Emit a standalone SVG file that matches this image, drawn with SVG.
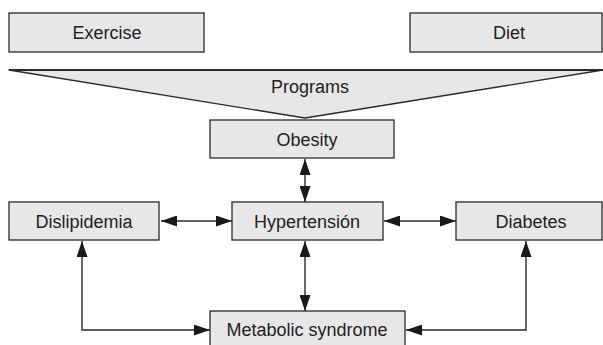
<svg xmlns="http://www.w3.org/2000/svg" width="603" height="345" viewBox="0 0 603 345">
  <style>
    .box { fill: #e7e7e7; stroke: #2a2a2a; stroke-width: 1.3; }
    .lbl { font-family: "Liberation Sans", Arial, sans-serif; font-size: 18px; fill: #222; text-anchor: middle; }
    .con { fill: none; stroke: #2a2a2a; stroke-width: 1.4; }
  </style>
  <defs>
    <marker id="ah" viewBox="0 0 16 11" markerWidth="16" markerHeight="11" refX="16" refY="5.5" orient="auto-start-reverse" markerUnits="userSpaceOnUse">
      <path d="M0,0 L16,5.5 L0,11 z" fill="#1a1a1a"/>
    </marker>
  </defs>
  <rect width="603" height="345" fill="#ffffff"/>

  <g id="exercise">
    <rect class="box" x="9" y="13" width="195" height="39"/>
    <text class="lbl" x="107" y="39">Exercise</text>
  </g>
  <g id="diet">
    <rect class="box" x="410" y="13" width="192" height="39"/>
    <text class="lbl" x="509" y="39">Diet</text>
  </g>
  <g id="programs">
    <path d="M9,70 L603,70 L305,118 Z" fill="#e7e7e7" stroke="#2a2a2a" stroke-width="1.3" stroke-linejoin="round"/>
    <line x1="9" y1="70" x2="603" y2="70" stroke="#2a2a2a" stroke-width="2"/>
    <text class="lbl" x="310" y="93">Programs</text>
  </g>
  <g id="obesity">
    <rect class="box" x="210" y="120" width="184" height="38"/>
    <text class="lbl" x="307" y="146">Obesity</text>
  </g>
  <g id="dislipidemia">
    <rect class="box" x="9" y="202" width="150" height="38"/>
    <text class="lbl" x="84" y="228">Dislipidemia</text>
  </g>
  <g id="hypertension">
    <rect class="box" x="232" y="202" width="151" height="38"/>
    <text class="lbl" x="307" y="228">Hypertensión</text>
  </g>
  <g id="diabetes">
    <rect class="box" x="456" y="202" width="146" height="38"/>
    <text class="lbl" x="531" y="228">Diabetes</text>
  </g>
  <g id="metabolic">
    <rect class="box" x="210" y="311" width="195" height="40"/>
    <text class="lbl" x="307" y="336">Metabolic syndrome</text>
  </g>

  <g id="connectors">
    <line class="con" x1="305" y1="159" x2="305" y2="202" marker-start="url(#ah)" marker-end="url(#ah)"/>
    <line class="con" x1="161" y1="221" x2="232" y2="221" marker-start="url(#ah)" marker-end="url(#ah)"/>
    <line class="con" x1="384" y1="221" x2="456" y2="221" marker-start="url(#ah)" marker-end="url(#ah)"/>
    <line class="con" x1="305" y1="241" x2="305" y2="311" marker-start="url(#ah)" marker-end="url(#ah)"/>
    <path class="con" d="M82,241 V330 H210" marker-start="url(#ah)" marker-end="url(#ah)"/>
    <path class="con" d="M526,241 V330 H406" marker-start="url(#ah)" marker-end="url(#ah)"/>
  </g>
</svg>
